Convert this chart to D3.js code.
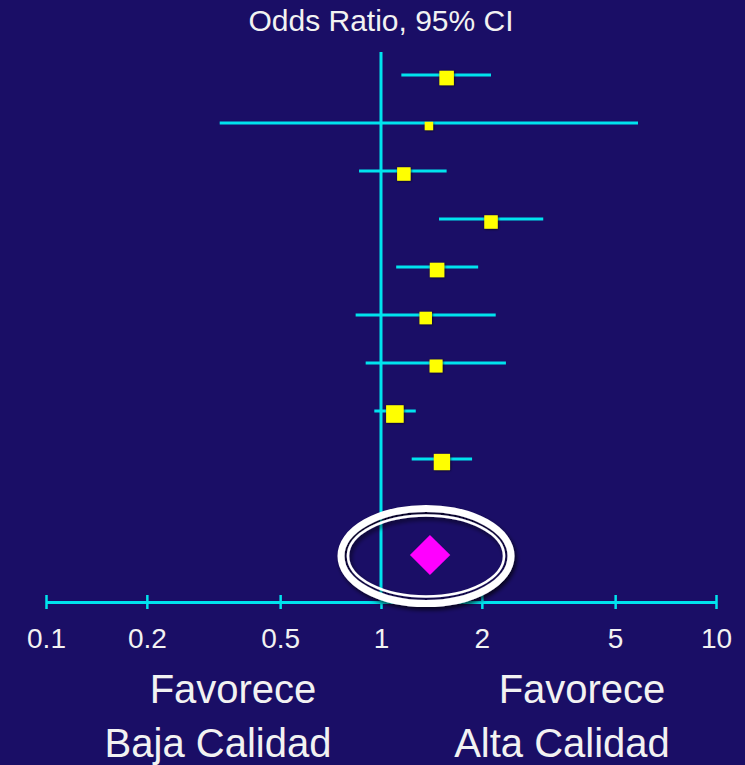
<!DOCTYPE html>
<html>
<head>
<meta charset="utf-8">
<script src="https://cdn.jsdelivr.net/npm/d3@7"></script>
<style>
  html, body { margin: 0; padding: 0; background: #1a0e66; }
  svg { display: block; }
  text { font-family: "Liberation Sans", Arial, Helvetica, sans-serif; fill: #f2f2f2; }
</style>
</head>
<body>
<script>
// Study-level odds ratios with 95% confidence limits and weights (%)
const studyOR    = [1.57, 1.39, 1.17, 2.13, 1.47, 1.36, 1.46, 1.10, 1.52];
const studyLower = [1.15, 0.33, 0.86, 1.49, 1.11, 0.84, 0.90, 0.955, 1.235];
const studyUpper = [2.13, 5.85, 1.57, 3.05, 1.95, 2.20, 2.36, 1.27, 1.87];
const studyWeight = [12.0, 4.0, 10.4, 10.4, 12.0, 8.9, 9.6, 17.6, 15.1];

// Pooled estimate
const pooledOR = 1.40;
const pooledLower = 1.22;
const pooledUpper = 1.61;

// Axis ticks
const tickValues = [0.1, 0.2, 0.5, 1, 2, 5, 10];
const tickLabels = ["0.1", "0.2", "0.5", "1", "2", "5", "10"];

const titleText = "Odds Ratio, 95% CI";
const leftLabel = ["Favorece", "Baja Calidad"];
const rightLabel = ["Favorece", "Alta Calidad"];

const W = 745, H = 765;
const bg = "#1a0e66", cyan = "#00e3ee", yellow = "#ffff00", magenta = "#ff00ff";

const svg = d3.select("body").append("svg").attr("width", W).attr("height", H);
svg.append("rect").attr("width", W).attr("height", H).attr("fill", bg);

const defs = svg.append("defs");
const sh = defs.append("filter").attr("id", "shadow")
  .attr("x", "-20%").attr("y", "-20%").attr("width", "140%").attr("height", "150%");
sh.append("feDropShadow").attr("dx", 2).attr("dy", 3).attr("stdDeviation", 2.2)
  .attr("flood-color", "#000").attr("flood-opacity", 0.7);
const sq = defs.append("filter").attr("id", "sqshadow")
  .attr("x", "-30%").attr("y", "-30%").attr("width", "160%").attr("height", "160%");
sq.append("feDropShadow").attr("dx", 0.5).attr("dy", 0.5).attr("stdDeviation", 0.8)
  .attr("flood-color", "#000").attr("flood-opacity", 0.8);

// Scales
const x = d3.scaleLog().domain([0.1, 10]).range([46, 716]);
const rowIndex = d3.range(studyOR.length);
const pooledRow = 10;
const y = d3.scaleLinear().domain([0, pooledRow]).range([75, 555]);
const side = d3.scaleSqrt().domain([0, d3.max(studyWeight)]).range([0, 17.5]);
const axisY = 602;
const markerDrop = 3;

// Title
svg.append("text")
  .attr("x", x(1)).attr("y", 31)
  .attr("text-anchor", "middle")
  .attr("font-size", 30)
  .text(titleText);

// Line of no effect
svg.append("line")
  .attr("x1", x(1)).attr("x2", x(1))
  .attr("y1", 52).attr("y2", axisY)
  .attr("stroke", cyan).attr("stroke-width", 3);

// Confidence intervals
svg.append("g").selectAll("line").data(rowIndex).join("line")
  .attr("x1", i => x(studyLower[i]))
  .attr("x2", i => x(studyUpper[i]))
  .attr("y1", i => y(i)).attr("y2", i => y(i))
  .attr("stroke", cyan).attr("stroke-width", 3);

// Point estimates (square area proportional to weight)
svg.append("g").selectAll("rect").data(rowIndex).join("rect")
  .attr("x", i => x(studyOR[i]) - side(studyWeight[i]) / 2)
  .attr("y", i => y(i) + markerDrop - side(studyWeight[i]) / 2)
  .attr("width", i => side(studyWeight[i]))
  .attr("height", i => side(studyWeight[i]))
  .attr("fill", yellow)
  .attr("filter", "url(#sqshadow)");

// Axis
const axis = d3.axisBottom(x)
  .tickValues(tickValues)
  .tickFormat((d, i) => tickLabels[i])
  .tickSizeOuter(0)
  .tickSizeInner(7);
const gAxis = svg.append("g").attr("transform", `translate(0,${axisY})`).call(axis);
gAxis.select(".domain").attr("stroke", cyan).attr("stroke-width", 3);
gAxis.selectAll(".tick line").attr("stroke", cyan).attr("stroke-width", 2.5)
  .attr("y1", -7).attr("y2", 7);
gAxis.selectAll(".tick text")
  .attr("y", 46).attr("dy", 0)
  .attr("font-size", 28)
  .attr("font-family", "'Liberation Sans', Arial, Helvetica, sans-serif")
  .attr("fill", "#f2f2f2");

// Pooled diamond
const py = y(pooledRow);
const halfH = 20;
svg.append("path")
  .attr("d", d3.line()([
    [x(pooledLower), py],
    [x(pooledOR), py - halfH],
    [x(pooledUpper), py],
    [x(pooledOR), py + halfH]
  ]) + "Z")
  .attr("fill", magenta);

// Highlight ring around the pooled estimate
const ring = svg.append("g").attr("filter", "url(#shadow)");
const cx = 426, cy = 556;
ring.append("ellipse").attr("cx", cx).attr("cy", cy).attr("rx", 85).attr("ry", 47.5)
  .attr("fill", "none").attr("stroke", "#ffffff").attr("stroke-width", 7);
ring.append("ellipse").attr("cx", cx).attr("cy", cy).attr("rx", 78).attr("ry", 40.5)
  .attr("fill", "none").attr("stroke", "#ffffff").attr("stroke-width", 2.5);

// Direction labels
function twoLine(lines, xs, baselines) {
  lines.forEach((t, i) => {
    svg.append("text")
      .attr("x", xs[i]).attr("y", baselines[i])
      .attr("text-anchor", "middle")
      .attr("font-size", 40)
      .text(t);
  });
}
twoLine(leftLabel, [233, 218], [703, 757]);
twoLine(rightLabel, [582, 562], [703, 757]);
</script>
</body>
</html>
